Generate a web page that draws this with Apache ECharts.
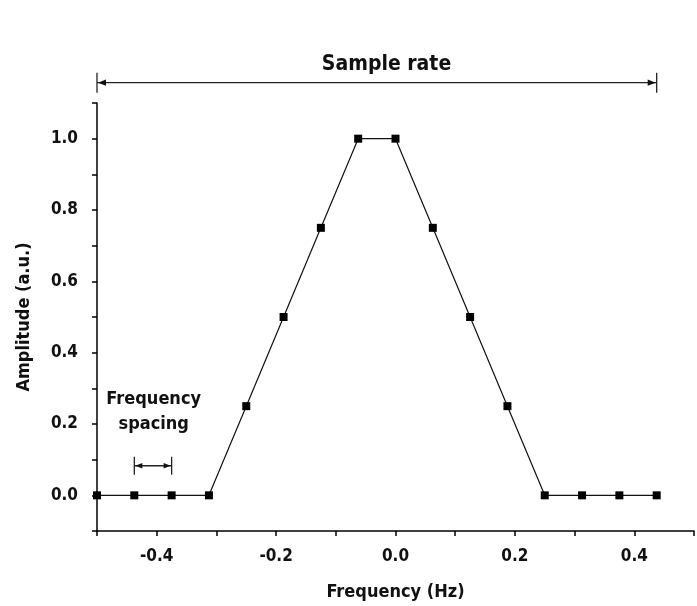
<!DOCTYPE html>
<html>
<head>
<meta charset="utf-8">
<script src="https://cdn.jsdelivr.net/npm/echarts@6/dist/echarts.min.js"></script>
<style>
  html, body { margin: 0; padding: 0; background: #fff; }
  #chart { width: 697px; height: 606px; }
</style>
</head>
<body>
<div id="chart"></div>
<script>
// frequency samples (Hz), spacing 1/16
const frequency = [-0.5, -0.4375, -0.375, -0.3125, -0.25, -0.1875, -0.125, -0.0625,
  0, 0.0625, 0.125, 0.1875, 0.25, 0.3125, 0.375, 0.4375]
// amplitude (a.u.)
const amplitude = [0, 0, 0, 0, 0.25, 0.5, 0.75, 1.0,
  1.0, 0.75, 0.5, 0.25, 0, 0, 0, 0]
// annotations
const sampleRateSpan = [-0.5, 0.4375]
const sampleRateLevel = 1.157
const spacingSpan = [-0.4375, -0.375]
const spacingLevel = 0.083

const font = '"Liberation Sans Narrow", "DejaVu Sans Condensed", "Liberation Sans", sans-serif'
const points = frequency.map((f, i) => [f, amplitude[i]])

function evenTenth(v) {
  return Math.round(v * 10) % 2 === 0 ? v.toFixed(1) : ''
}

const chart = echarts.init(document.getElementById('chart'))
chart.setOption({
  animation: false,
  backgroundColor: '#fff',
  grid: { left: 97, right: -6, top: 103, bottom: 74 },
  xAxis: {
    type: 'value',
    min: -0.5,
    max: 0.5,
    interval: 0.1,
    name: 'Frequency (Hz)',
    nameLocation: 'middle',
    nameGap: 52,
    nameTextStyle: { fontFamily: font, fontWeight: 'bold', fontSize: 18, color: '#111' },
    axisLine: { onZero: false, lineStyle: { color: '#000', width: 1.5 } },
    axisTick: { inside: false, length: 5, lineStyle: { color: '#000', width: 1.5 } },
    axisLabel: {
      margin: 17,
      formatter: evenTenth,
      fontFamily: font, fontWeight: 'bold', fontSize: 17, color: '#111'
    },
    splitLine: { show: false }
  },
  yAxis: {
    type: 'value',
    min: -0.1,
    max: 1.1,
    interval: 0.1,
    name: 'Amplitude (a.u.)',
    nameLocation: 'middle',
    nameGap: 64,
    nameTextStyle: { fontFamily: font, fontWeight: 'bold', fontSize: 18, color: '#111' },
    axisLine: { show: true, onZero: false, lineStyle: { color: '#000', width: 1.5 } },
    axisTick: { show: true, inside: false, length: 5, lineStyle: { color: '#000', width: 1.5 } },
    axisLabel: {
      margin: 19,
      formatter: evenTenth,
      fontFamily: font, fontWeight: 'bold', fontSize: 17, color: '#111'
    },
    splitLine: { show: false }
  },
  series: [{
    type: 'line',
    data: points,
    symbol: 'rect',
    symbolSize: 8,
    clip: false,
    lineStyle: { color: '#111', width: 1.2 },
    itemStyle: { color: '#000' }
  }]
})

// double-headed arrow with end bars, positioned from data coordinates
function dimensionArrow(span, level, barHalf, head) {
  const a = chart.convertToPixel('grid', [span[0], level])
  const b = chart.convertToPixel('grid', [span[1], level])
  const y = a[1]
  const stroke = { stroke: '#222', lineWidth: 1.3 }
  return [
    { type: 'line', shape: { x1: a[0], y1: y, x2: b[0], y2: y }, style: stroke },
    { type: 'line', shape: { x1: a[0], y1: y - barHalf, x2: a[0], y2: y + barHalf }, style: stroke },
    { type: 'line', shape: { x1: b[0], y1: y - barHalf, x2: b[0], y2: y + barHalf }, style: stroke },
    { type: 'polygon', shape: { points: [[a[0] + 1, y], [a[0] + 1 + head, y - head / 2.5], [a[0] + 1 + head, y + head / 2.5]] }, style: { fill: '#111' } },
    { type: 'polygon', shape: { points: [[b[0] - 1, y], [b[0] - 1 - head, y - head / 2.5], [b[0] - 1 - head, y + head / 2.5]] }, style: { fill: '#111' } }
  ]
}

const titlePos = chart.convertToPixel('grid', [-0.015, 1.207])
const spacePos = chart.convertToPixel('grid', [-0.405, 0.235])
chart.setOption({
  graphic: [
    ...dimensionArrow(sampleRateSpan, sampleRateLevel, 10, 8),
    ...dimensionArrow(spacingSpan, spacingLevel, 9, 7),
    {
      type: 'text', x: titlePos[0], y: titlePos[1],
      style: {
        text: 'Sample rate', align: 'center', verticalAlign: 'middle',
        font: 'bold 21px ' + font, fill: '#111'
      }
    },
    {
      type: 'text', x: spacePos[0], y: spacePos[1],
      style: {
        text: 'Frequency\nspacing', align: 'center', verticalAlign: 'middle',
        font: 'bold 18px ' + font, fill: '#111', lineHeight: 25
      }
    }
  ]
})
</script>
</body>
</html>
